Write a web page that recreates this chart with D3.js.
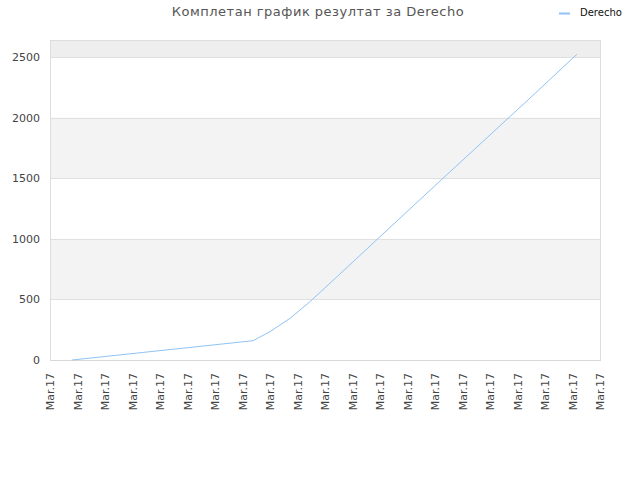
<!DOCTYPE html>
<html>
<head>
<meta charset="utf-8">
<script src="https://cdn.jsdelivr.net/npm/d3@7"></script>
<style>
body { margin: 0; background: #fff; }
text { font-family: "DejaVu Sans", sans-serif; }
</style>
</head>
<body>
<script>
// positions along the time axis, in tick steps (tick 0 = left edge)
var timePos = [0.8, 7.38, 8.0, 8.73, 9.45, 10.18, 12.0, 14.29, 17.38, 19.16];
var results = [0, 159, 234, 344, 481, 633, 1017, 1499, 2145, 2522];
var xTickLabels = ["Mar.17","Mar.17","Mar.17","Mar.17","Mar.17","Mar.17","Mar.17",
    "Mar.17","Mar.17","Mar.17","Mar.17","Mar.17","Mar.17","Mar.17","Mar.17",
    "Mar.17","Mar.17","Mar.17","Mar.17","Mar.17","Mar.17"];
var yTicks = [0, 500, 1000, 1500, 2000, 2500];
var seriesName = "Derecho";
var title = "Комплетан график резултат за Derecho";

var plotLeft = 50, plotRight = 600, plotTop = 40, plotBottom = 360;

var svg = d3.select('body')
    .append('svg')
    .attr('width', 640)
    .attr('height', 480);

var x = d3.scaleLinear().domain([0, xTickLabels.length - 1]).range([plotLeft, plotRight]);
var y = d3.scaleLinear().domain([0, 2640]).range([plotBottom, plotTop]);

// alternating bands
var bands = [[500, 1000, '#f3f3f3'], [1500, 2000, '#f3f3f3'], [2500, 2640, '#eeeeee']];
svg.selectAll('rect.band')
    .data(bands)
    .enter()
    .append('rect')
    .attr('x', plotLeft)
    .attr('width', plotRight - plotLeft)
    .attr('y', d => y(d[1]))
    .attr('height', d => y(d[0]) - y(d[1]))
    .attr('fill', d => d[2]);

// grid lines
svg.selectAll('line.grid')
    .data(yTicks.slice(1))
    .enter()
    .append('line')
    .attr('x1', plotLeft).attr('x2', plotRight)
    .attr('y1', d => Math.round(y(d)) + 0.5).attr('y2', d => Math.round(y(d)) + 0.5)
    .attr('stroke', '#e0e0e0');

// frame
svg.append('rect')
    .attr('x', plotLeft + 0.5).attr('y', plotTop + 0.5)
    .attr('width', plotRight - plotLeft).attr('height', plotBottom - plotTop)
    .attr('fill', 'none')
    .attr('stroke', '#dddddd');

// y axis
var yAxis = svg.append('g')
    .attr('transform', `translate(${plotLeft},0)`)
    .call(d3.axisLeft(y).tickValues(yTicks).tickFormat(d3.format('d')).tickSize(0).tickPadding(10));
yAxis.select('.domain').remove();
yAxis.selectAll('text')
    .attr('fill', '#444')
    .style('font-size', '11px');

// x axis
var xAxis = svg.append('g')
    .attr('transform', `translate(0,${plotBottom})`)
    .call(d3.axisBottom(x).tickValues(d3.range(xTickLabels.length))
        .tickFormat((d, i) => xTickLabels[i]).tickSize(0));
xAxis.select('.domain').attr('stroke', '#d8d8d8');
xAxis.selectAll('text')
    .attr('fill', '#444')
    .style('font-size', '11px')
    .attr('text-anchor', 'end')
    .attr('dy', '0.35em')
    .attr('transform', 'translate(0,13) rotate(-90)')
    .attr('x', 0).attr('y', 0);

// series line
var line = d3.line()
    .x((d, i) => x(timePos[i]))
    .y(d => y(d));
svg.append('path')
    .datum(results)
    .attr('d', line)
    .attr('fill', 'none')
    .attr('stroke', '#90c3f5')
    .attr('stroke-width', 1);

// title
svg.append('text')
    .attr('x', 318).attr('y', 16)
    .attr('text-anchor', 'middle')
    .attr('fill', '#555')
    .style('font-size', '13px')
    .style('letter-spacing', '0.5px')
    .text(title);

// legend
svg.append('line')
    .attr('x1', 559).attr('x2', 570)
    .attr('y1', 13.5).attr('y2', 13.5)
    .attr('stroke', '#90c3f5')
    .attr('stroke-width', 2);
svg.append('text')
    .attr('x', 580).attr('y', 16)
    .attr('fill', '#111')
    .style('font-size', '10px')
    .text(seriesName);
</script>
</body>
</html>
